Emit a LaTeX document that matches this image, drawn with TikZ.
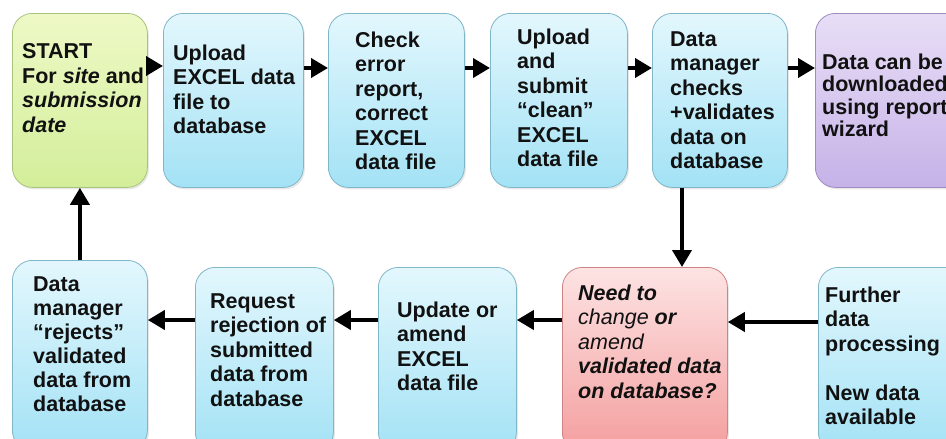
\documentclass[tikz,border=0pt]{standalone}
\usepackage{fontspec}
\setmainfont{Liberation Sans}
\usetikzlibrary{arrows.meta,shadows}
\definecolor{bluetop}{HTML}{E3F7FD}
\definecolor{bluebot}{HTML}{A3E2F5}
\definecolor{blueline}{HTML}{7FB6C8}
\definecolor{greentop}{HTML}{EEF9C6}
\definecolor{greenbot}{HTML}{D3EE9A}
\definecolor{greenline}{HTML}{A8C47C}
\definecolor{purptop}{HTML}{E8DEF6}
\definecolor{purpbot}{HTML}{C6B2E8}
\definecolor{purpline}{HTML}{9E8CC0}
\definecolor{redtop}{HTML}{FDE3E3}
\definecolor{redbot}{HTML}{F49E9E}
\definecolor{redline}{HTML}{CF8484}
\definecolor{txt}{HTML}{111111}
\tikzset{
  box/.style={rectangle, rounded corners=20pt, line width=0.8pt, inner sep=0pt,
    anchor=north west, drop shadow={shadow xshift=1.5pt, shadow yshift=-2pt, opacity=0.18}},
  bluebox/.style={box, draw=blueline, top color=bluetop, bottom color=bluebot},
  greenbox/.style={box, draw=greenline, top color=greentop, bottom color=greenbot},
  purpbox/.style={box, draw=purpline, top color=purptop, bottom color=purpbot},
  redbox/.style={box, draw=redline, top color=redtop, bottom color=redbot},
  lbl/.style={anchor=north west, inner sep=0pt, align=left, text=txt,
    font=\fontsize{21.5pt}{24.5pt}\selectfont\bfseries},
  arr/.style={line width=3.8pt, -{Triangle[length=17pt,width=19pt]}, black},
}
\begin{document}
\begin{tikzpicture}[x=1pt,y=-1pt]
\useasboundingbox (0,0) rectangle (946,439);
\clip (0,0) rectangle (946,439);
\fill[white] (0,0) rectangle (946,439);
% top row
\node[greenbox, minimum width=135pt, minimum height=174pt] (s1) at (12,13) {};
\node[bluebox, minimum width=140pt, minimum height=174pt] (s2) at (163,13) {};
\node[bluebox, minimum width=136pt, minimum height=174pt] (s3) at (328,13) {};
\node[bluebox, minimum width=137pt, minimum height=174pt] (s4) at (490,13) {};
\node[bluebox, minimum width=135pt, minimum height=174pt] (s5) at (652,13) {};
\node[purpbox, minimum width=150pt, minimum height=174pt] (s6) at (815,13) {};
% bottom row
\node[bluebox, minimum width=135pt, minimum height=190pt] (b1) at (12,260) {};
\node[bluebox, minimum width=138pt, minimum height=185pt] (b2) at (195,267) {};
\node[bluebox, minimum width=138pt, minimum height=185pt] (b3) at (378,267) {};
\node[redbox, minimum width=165pt, minimum height=185pt] (b4) at (562,267) {};
\node[bluebox, minimum width=150pt, minimum height=185pt] (b5) at (818,267) {};
% texts
\node[lbl] (t1) at (22,43.5) {START\\For \textit{site} and\\\textit{submission}\\\textit{date}};
\node[lbl] (t2) at (173,44.5) {Upload\\EXCEL data\\file to\\database};
\node[lbl] (t3) at (355,31.5) {Check\\error\\report,\\correct\\EXCEL\\data file};
\node[lbl] (t4) at (517,28.5) {Upload\\and\\submit\\“clean”\\EXCEL\\data file};
\node[lbl] (t5) at (670,31.5) {Data\\manager\\checks\\+validates\\data on\\database};
\node[lbl, font=\fontsize{21.5pt}{22.5pt}\selectfont\bfseries] (t6) at (822,53.5) {Data can be\\downloaded\\using report\\wizard};
\node[lbl, font=\fontsize{21.5pt}{24pt}\selectfont\bfseries] (t7) at (33,276.5) {Data\\manager\\“rejects”\\validated\\data from\\database};
\node[lbl] (t8) at (210,293.5) {Request\\rejection of\\submitted\\data from\\database};
\node[lbl] (t9) at (397,301.5) {Update or\\amend\\EXCEL\\data file};
\node[lbl] (t10) at (578,284.5) {\textit{Need to}\\{\mdseries\itshape change} \textit{or}\\{\mdseries\itshape amend}\\\textit{validated data}\\\textit{on database?}};
\node[lbl] (t11) at (825,286.5) {Further\\data\\processing\\~\\New data\\available};
% arrows top row
\draw[arr] ([yshift=-53pt]s1.north east) -- ([yshift=-53pt]s2.north west);
\draw[arr] ([yshift=-55pt]s2.north east) -- ([yshift=-55pt]s3.north west);
\draw[arr] ([yshift=-55pt]s3.north east) -- ([yshift=-55pt]s4.north west);
\draw[arr] ([yshift=-55pt]s4.north east) -- ([yshift=-55pt]s5.north west);
\draw[arr] ([yshift=-55pt]s5.north east) -- ([yshift=-55pt]s6.north west);
% vertical arrows
\draw[arr] ([xshift=30pt]s5.south west) -- ([xshift=30pt]s5.south west |- b4.north);
\draw[arr] (b1.north) -- (s1.south);
% arrows bottom row
\draw[arr] ([yshift=-55pt]b5.north west) -- ([yshift=-55pt]b4.north east);
\draw[arr] ([yshift=-53pt]b4.north west) -- ([yshift=-53pt]b3.north east);
\draw[arr] ([yshift=-53pt]b3.north west) -- ([yshift=-53pt]b2.north east);
\draw[arr] ([yshift=-53pt]b2.north west) -- ([yshift=-53pt]b2.north west -| b1.east);
\end{tikzpicture}
\end{document}
